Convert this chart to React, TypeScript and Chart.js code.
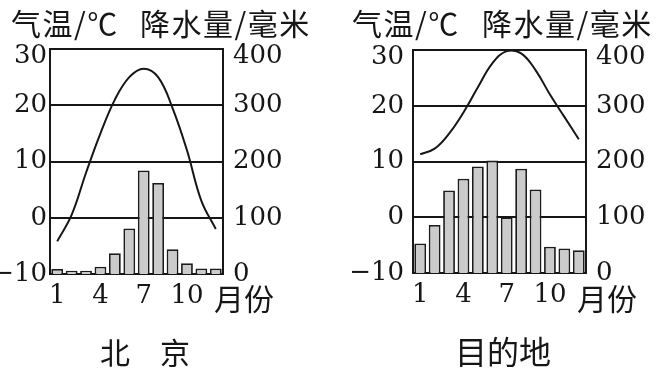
import React, { useEffect, useRef } from 'react';
import { Chart, registerables } from 'chart.js';

Chart.register(...registerables);

const months = ['1', '2', '3', '4', '5', '6', '7', '8', '9', '10', '11', '12'];
const shownMonthLabels = ['1', '4', '7', '10'];
const beijingTemp = [-4.2, 0.5, 8, 15, 21, 25, 26.5, 25, 19.5, 12, 3, -2];
const beijingPrecip = [9, 6, 6, 13, 37, 81, 184, 162, 44, 19, 10, 10];
const destTemp = [11.3, 12.3, 15, 18.8, 23.3, 27.6, 29.8, 29.4, 26.4, 22, 18, 14];
const destPrecip = [53, 86, 148, 169, 191, 202, 100, 187, 150, 47, 44, 41];
const tempMin = -10;
const tempMax = 30;
const precipMin = 0;
const precipMax = 400;

const SERIF = "'DejaVu Serif', serif";
const CJK = "'Noto Sans CJK SC', sans-serif";
const INK = '#161616';
const TICK_SIZE = 26;

type P = {
  temp: number[];
  precip: number[];
  left: number;
  width: number;
  leftW: number;
  rightW: number;
  bottomH: number;
  topPad: number;
  leftPad: number;
};

function fmt(v: number) {
  return v < 0 ? '\u2212' + Math.abs(v) : String(v);
}

function MiniChart(p: P) {
  const ref = useRef<HTMLCanvasElement>(null);
  useEffect(() => {
    const chart = new Chart(ref.current as HTMLCanvasElement, {
      data: {
        labels: months,
        datasets: [
          {
            type: 'line',
            data: p.temp,
            yAxisID: 'y',
            borderColor: INK,
            borderWidth: 2,
            pointRadius: 0,
            tension: 0.4,
            fill: false,
            order: 0,
          } as any,
          {
            type: 'bar',
            data: p.precip,
            yAxisID: 'y1',
            backgroundColor: '#cbcbcb',
            borderColor: '#1c1c1c',
            borderWidth: 1.8,
            barPercentage: 0.82,
            categoryPercentage: 1,
            order: 1,
          } as any,
        ],
      },
      options: {
        responsive: false,
        animation: false,
        events: [],
        layout: { padding: { top: p.topPad, left: 0, right: 0, bottom: 0 } },
        plugins: { legend: { display: false }, tooltip: { enabled: false } },
        scales: {
          x: {
            type: 'category',
            offset: true,
            grid: { display: false, drawTicks: false },
            border: { display: true, color: INK, width: 2 },
            ticks: {
              autoSkip: false,
              maxRotation: 0,
              minRotation: 0,
              padding: 7,
              color: INK,
              font: { family: SERIF, size: TICK_SIZE },
              callback: (_v: any, i: number) =>
                shownMonthLabels.includes(months[i]) ? months[i] : '',
            },
            afterFit: (s: any) => {
              s.height = p.bottomH;
            },
          },
          y: {
            position: 'left',
            min: tempMin,
            max: tempMax,
            grid: { color: INK, lineWidth: 2, drawTicks: false },
            border: { display: true, color: INK, width: 2 },
            ticks: {
              stepSize: 10,
              padding: p.leftPad,
              color: INK,
              font: (ctx: any) => ({
                family: SERIF,
                size: TICK_SIZE,
                lineHeight: ctx.tick && ctx.tick.value === tempMax ? '14px' : 1.2,
              }),
              callback: (v: any) => (v === tempMax ? ['', fmt(v)] : fmt(v)),
            },
            afterFit: (s: any) => {
              s.width = p.leftW;
            },
          },
          y1: {
            position: 'right',
            min: precipMin,
            max: precipMax,
            grid: { display: false, drawTicks: false },
            border: { display: true, color: INK, width: 2 },
            ticks: {
              stepSize: 100,
              padding: 10,
              color: INK,
              font: (ctx: any) => ({
                family: SERIF,
                size: TICK_SIZE,
                lineHeight: ctx.tick && ctx.tick.value === precipMax ? '14px' : 1.2,
              }),
              callback: (v: any) => (v === precipMax ? ['', String(v)] : String(v)),
            },
            afterFit: (s: any) => {
              s.width = p.rightW;
            },
          },
        },
      } as any,
    });
    return () => chart.destroy();
  }, []);
  return (
    <canvas
      ref={ref}
      width={p.width}
      height={369}
      style={{ position: 'absolute', left: p.left, top: 0, width: p.width, height: 369 }}
    />
  );
}

function Txt(props: { x: number; y: number; size: number; children: any; ls?: number }) {
  return (
    <div
      style={{
        position: 'absolute',
        left: props.x,
        top: props.y,
        fontFamily: CJK,
        fontSize: props.size,
        lineHeight: 1,
        whiteSpace: 'nowrap',
        color: INK,
        letterSpacing: props.ls ?? 0,
      }}
    >
      {props.children}
    </div>
  );
}

export default function App() {
  return (
    <div style={{ position: 'absolute', left: 0, top: 0, width: 657, height: 369, background: '#fff', overflow: 'hidden' }}>
      <MiniChart temp={beijingTemp} precip={beijingPrecip} left={0} width={330} leftW={50} rightW={107} bottomH={95} topPad={49} leftPad={3} />
      <MiniChart temp={destTemp} precip={destPrecip} left={330} width={327} leftW={83} rightW={71} bottomH={96} topPad={50} leftPad={9} />
      <Txt x={11} y={7} size={30} ls={1.5}>气温/℃</Txt>
      <Txt x={140} y={7} size={30} ls={1.5}>降水量/毫米</Txt>
      <Txt x={352} y={7} size={30} ls={1.5}>气温/℃</Txt>
      <Txt x={482} y={7} size={30} ls={1.5}>降水量/毫米</Txt>
      <Txt x={214} y={282} size={30}>月份</Txt>
      <Txt x={577} y={282} size={30}>月份</Txt>
      <Txt x={100} y={336} size={30}>北　京</Txt>
      <Txt x={455} y={334} size={32}>目的地</Txt>
    </div>
  );
}
